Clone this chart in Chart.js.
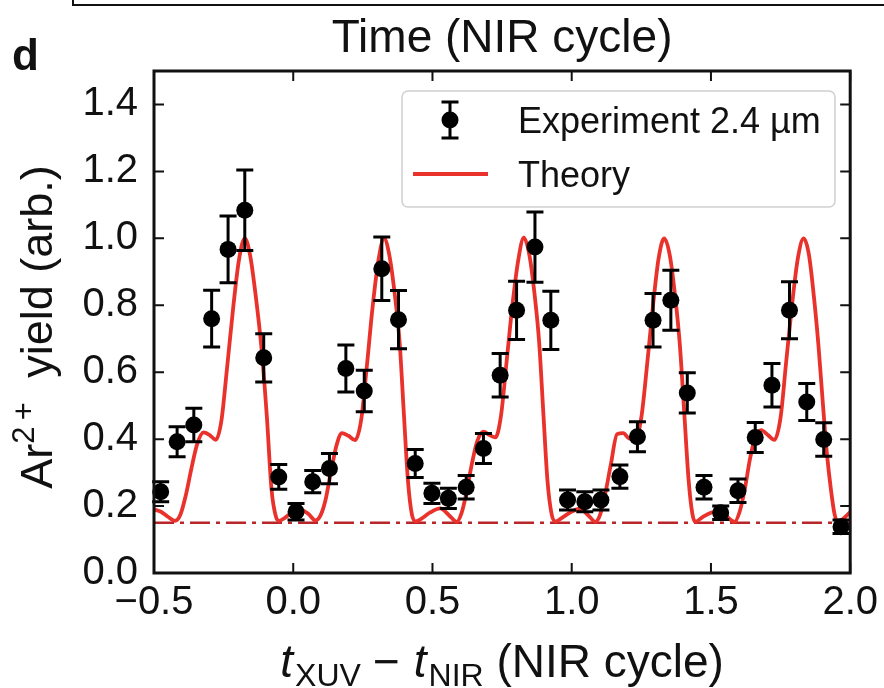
<!DOCTYPE html>
<html>
<head>
<meta charset="utf-8">
<script src="https://cdn.jsdelivr.net/npm/chart.js@4/dist/chart.umd.min.js"></script>
<style>
  html, body { margin: 0; padding: 0; background: #fff; }
  canvas { display: block; }
</style>
</head>
<body>
<canvas id="chart" width="884" height="688"></canvas>
<script>
// Measured Ar2+ yield versus XUV–NIR delay (in NIR cycles), with 1σ error bars
const delayCycles = [
  -0.476, -0.417, -0.357, -0.293, -0.234, -0.174, -0.106, -0.052, 0.010, 0.070,
  0.130, 0.189, 0.255, 0.318, 0.378, 0.438, 0.498, 0.557, 0.621, 0.683,
  0.743, 0.802, 0.868, 0.925, 0.985, 1.047, 1.105, 1.173, 1.236, 1.292,
  1.356, 1.415, 1.475, 1.535, 1.597, 1.659, 1.719, 1.782, 1.844, 1.905,
  1.967
];
const yieldValues = [
  0.243, 0.392, 0.442, 0.760, 0.967, 1.084, 0.643, 0.287, 0.183, 0.273,
  0.312, 0.611, 0.544, 0.909, 0.757, 0.327, 0.238, 0.223, 0.256, 0.372,
  0.591, 0.785, 0.974, 0.755, 0.218, 0.213, 0.218, 0.288, 0.407, 0.755,
  0.815, 0.538, 0.256, 0.180, 0.246, 0.405, 0.561, 0.785, 0.511, 0.399,
  0.138
];
const yieldErrors = [
  0.030, 0.045, 0.050, 0.085, 0.100, 0.120, 0.072, 0.037, 0.025, 0.033,
  0.045, 0.070, 0.062, 0.095, 0.087, 0.042, 0.030, 0.030, 0.035, 0.045,
  0.065, 0.087, 0.105, 0.087, 0.030, 0.030, 0.030, 0.035, 0.045, 0.080,
  0.090, 0.060, 0.035, 0.020, 0.035, 0.045, 0.065, 0.085, 0.055, 0.050,
  0.020
];

// Simulated yield curve
const theoryDelay = [
  -0.500, -0.475, -0.450, -0.425, -0.405, -0.385, -0.365, -0.345, -0.322, -0.300,
  -0.278, -0.258, -0.238, -0.216, -0.195, -0.174, -0.155, -0.135, -0.115, -0.095,
  -0.078, -0.062, -0.050, -0.030, -0.005, 0.030, 0.055, 0.080, 0.098, 0.115,
  0.135, 0.155, 0.175, 0.198, 0.222, 0.244, 0.264, 0.285, 0.306, 0.326,
  0.345, 0.365, 0.382, 0.397, 0.412, 0.426, 0.440, 0.462, 0.492, 0.528,
  0.560, 0.587, 0.604, 0.620, 0.640, 0.660, 0.683, 0.705, 0.726, 0.746,
  0.766, 0.787, 0.808, 0.828, 0.848, 0.867, 0.883, 0.898, 0.913, 0.928,
  0.942, 0.965, 0.995, 1.030, 1.060, 1.085, 1.103, 1.120, 1.140, 1.163,
  1.185, 1.206, 1.228, 1.250, 1.271, 1.292, 1.312, 1.332, 1.352, 1.371,
  1.388, 1.404, 1.420, 1.433, 1.443, 1.470, 1.500, 1.525, 1.555, 1.585,
  1.603, 1.621, 1.640, 1.657, 1.680, 1.705, 1.728, 1.750, 1.770, 1.791,
  1.812, 1.833, 1.852, 1.871, 1.886, 1.901, 1.916, 1.931, 1.944, 1.955,
  1.975, 2.000
];
const theoryYield = [
  0.190, 0.183, 0.168, 0.156, 0.175, 0.235, 0.315, 0.385, 0.420, 0.412,
  0.398, 0.455, 0.610, 0.790, 0.935, 1.000, 0.950, 0.830, 0.680, 0.470,
  0.250, 0.168, 0.156, 0.165, 0.180, 0.188, 0.176, 0.157, 0.172, 0.215,
  0.300, 0.380, 0.418, 0.410, 0.397, 0.458, 0.615, 0.795, 0.935, 1.000,
  0.950, 0.830, 0.690, 0.480, 0.275, 0.175, 0.154, 0.163, 0.181, 0.193,
  0.172, 0.153, 0.178, 0.232, 0.320, 0.392, 0.422, 0.412, 0.405, 0.470,
  0.630, 0.800, 0.935, 1.002, 0.950, 0.830, 0.690, 0.480, 0.275, 0.175,
  0.154, 0.165, 0.181, 0.192, 0.172, 0.153, 0.177, 0.235, 0.322, 0.415,
  0.418, 0.402, 0.400, 0.465, 0.625, 0.800, 0.940, 1.000, 0.950, 0.830,
  0.685, 0.480, 0.275, 0.178, 0.153, 0.167, 0.180, 0.184, 0.170, 0.153,
  0.183, 0.248, 0.340, 0.400, 0.427, 0.412, 0.398, 0.465, 0.630, 0.800,
  0.940, 1.000, 0.950, 0.815, 0.680, 0.516, 0.360, 0.248, 0.175, 0.153,
  0.162, 0.182
];

// Background level (dash-dot reference line)
const floorDelay = [-0.5, 2.0];
const floorYield = [0.15, 0.15];

const xTickValues = [-0.5, 0.0, 0.5, 1.0, 1.5, 2.0];
const yTickValues = [0.0, 0.2, 0.4, 0.6, 0.8, 1.0, 1.2, 1.4];
const seriesLabels = ['Experiment 2.4 \u00b5m', 'Theory'];
const panelLetter = 'd';
const topAxisTitle = 'Time (NIR cycle)';

const FONT = "'Liberation Sans', Arial, Helvetica, sans-serif";
const RED = '#e9322c';
const FLOOR_RED = '#b8262a';

const fmtTick = v => v.toFixed(1).replace('-', '\u2212');

function drawErrorBar(ctx, x, yTop, yBot, cap) {
  ctx.beginPath();
  ctx.moveTo(x, yTop); ctx.lineTo(x, yBot);
  ctx.moveTo(x - cap, yTop); ctx.lineTo(x + cap, yTop);
  ctx.moveTo(x - cap, yBot); ctx.lineTo(x + cap, yBot);
  ctx.stroke();
}

// Draws a run of text pieces (with sub/superscripts) centred on x=0 at baseline y=0
function drawRichText(ctx, parts) {
  let total = 0;
  parts.forEach(p => { ctx.font = p.font; p.w = ctx.measureText(p.text).width + (p.gap || 0); total += p.w; });
  let x = -total / 2;
  ctx.textAlign = 'left';
  ctx.textBaseline = 'alphabetic';
  parts.forEach(p => { ctx.font = p.font; ctx.fillText(p.text, x, p.dy || 0); x += p.w; });
}

const errorBarPlugin = {
  id: 'errorBars',
  beforeDatasetDraw(chart, args) {
    if (args.index !== 0) return;
    const { ctx, scales: { x, y } } = chart;
    ctx.save();
    ctx.strokeStyle = '#000';
    ctx.lineWidth = 3;
    delayCycles.forEach((t, i) => {
      const px = x.getPixelForValue(t);
      drawErrorBar(ctx, px,
        y.getPixelForValue(yieldValues[i] + yieldErrors[i]),
        y.getPixelForValue(yieldValues[i] - yieldErrors[i]), 8.5);
    });
    ctx.restore();
  }
};

const framePlugin = {
  id: 'frameAndDecor',
  afterDraw(chart) {
    const { ctx, chartArea: { left, right, top, bottom }, scales: { x, y } } = chart;
    ctx.save();
    // inward ticks on all four sides
    ctx.strokeStyle = '#111';
    ctx.lineWidth = 2;
    ctx.beginPath();
    xTickValues.forEach(v => {
      const px = x.getPixelForValue(v);
      ctx.moveTo(px, bottom); ctx.lineTo(px, bottom - 10);
      ctx.moveTo(px, top); ctx.lineTo(px, top + 10);
    });
    yTickValues.forEach(v => {
      const py = y.getPixelForValue(v);
      ctx.moveTo(left, py); ctx.lineTo(left + 10, py);
      ctx.moveTo(right, py); ctx.lineTo(right - 10, py);
    });
    ctx.stroke();
    // axes frame
    ctx.lineWidth = 3;
    ctx.strokeRect(left, top, right - left, bottom - top);

    // legend
    const lx = 402, ly = 91, lw = 433, lh = 116;
    ctx.beginPath();
    ctx.roundRect(lx, ly, lw, lh, 6);
    ctx.fillStyle = 'rgba(255,255,255,0.85)';
    ctx.fill();
    ctx.strokeStyle = '#d0d0d0';
    ctx.lineWidth = 1.5;
    ctx.stroke();

    ctx.strokeStyle = '#000';
    ctx.lineWidth = 3;
    drawErrorBar(ctx, 450, 102, 138, 8.5);
    ctx.beginPath();
    ctx.arc(450, 120, 8.5, 0, Math.PI * 2);
    ctx.fillStyle = '#000';
    ctx.fill();

    ctx.strokeStyle = RED;
    ctx.lineWidth = 3.8;
    ctx.beginPath();
    ctx.moveTo(413, 174); ctx.lineTo(488, 174);
    ctx.stroke();

    ctx.fillStyle = '#111';
    ctx.font = `36px ${FONT}`;
    ctx.textAlign = 'left';
    ctx.textBaseline = 'alphabetic';
    ctx.fillText(seriesLabels[0], 518, 133);
    ctx.fillText(seriesLabels[1], 518, 187);

    // panel letter and top title
    ctx.font = `bold 44px ${FONT}`;
    ctx.fillText(panelLetter, 12, 70);
    ctx.font = `46px ${FONT}`;
    ctx.textAlign = 'center';
    ctx.fillText(topAxisTitle, (left + right) / 2, 52);

    // x axis title: t_XUV − t_NIR (NIR cycle)
    ctx.save();
    ctx.translate((left + right) / 2, 677);
    drawRichText(ctx, [
      { text: 't', font: `italic 46px ${FONT}`, gap: 2 },
      { text: 'XUV', font: `32px ${FONT}`, dy: 9, gap: 12 },
      { text: '\u2212', font: `46px ${FONT}`, gap: 14 },
      { text: 't', font: `italic 46px ${FONT}`, gap: 2 },
      { text: 'NIR', font: `32px ${FONT}`, dy: 9 },
      { text: ' (NIR cycle)', font: `46px ${FONT}` }
    ]);
    ctx.restore();

    // y axis title: Ar^2+ yield (arb.)
    ctx.save();
    ctx.translate(52, 327);
    ctx.rotate(-Math.PI / 2);
    drawRichText(ctx, [
      { text: 'Ar', font: `45px ${FONT}` },
      { text: '2\u2009+', font: `31px ${FONT}`, dy: -18, gap: 12 },
      { text: ' yield (arb.)', font: `45px ${FONT}` }
    ]);
    ctx.restore();

    // edge of the neighbouring panel above
    ctx.strokeStyle = '#111';
    ctx.lineWidth = 2;
    ctx.beginPath();
    ctx.moveTo(73, 0); ctx.lineTo(73, 5); ctx.lineTo(884, 5);
    ctx.stroke();
    ctx.restore();
  }
};

const experimentPoints = delayCycles.map((t, i) => ({ x: t, y: yieldValues[i] }));
const theoryPoints = theoryDelay.map((t, i) => ({ x: t, y: theoryYield[i] }));
const floorPoints = floorDelay.map((t, i) => ({ x: t, y: floorYield[i] }));

new Chart(document.getElementById('chart'), {
  type: 'scatter',
  data: {
    datasets: [
      {
        label: seriesLabels[0],
        data: experimentPoints,
        pointRadius: 8.5,
        pointHoverRadius: 8.5,
        pointBackgroundColor: '#000',
        pointBorderColor: '#000',
        pointBorderWidth: 0,
        showLine: false,
        clip: false
      },
      {
        label: seriesLabels[1],
        data: theoryPoints,
        showLine: true,
        borderColor: RED,
        borderWidth: 3.8,
        pointRadius: 0,
        cubicInterpolationMode: 'monotone'
      },
      {
        label: 'floor',
        data: floorPoints,
        showLine: true,
        borderColor: FLOOR_RED,
        borderWidth: 2.5,
        borderDash: [20, 6, 4, 6],
        pointRadius: 0
      }
    ]
  },
  options: {
    responsive: false,
    animation: false,
    events: [],
    layout: { padding: { top: 71, right: 31, left: 0, bottom: 0 } },
    plugins: { legend: { display: false }, tooltip: { enabled: false }, title: { display: false } },
    scales: {
      x: {
        type: 'linear',
        min: -0.5,
        max: 2.0,
        grid: { display: false, drawTicks: false },
        border: { display: false },
        afterBuildTicks: s => { s.ticks = xTickValues.map(v => ({ value: v })); },
        afterFit: s => { s.height = 115; },
        ticks: {
          padding: 6,
          color: '#111',
          font: { family: FONT, size: 40 },
          callback: v => fmtTick(v),
          maxRotation: 0,
          autoSkip: false
        }
      },
      y: {
        type: 'linear',
        min: 0,
        max: 1.5,
        grid: { display: false, drawTicks: false },
        border: { display: false },
        afterBuildTicks: s => { s.ticks = yTickValues.map(v => ({ value: v })); },
        afterFit: s => { s.width = 154; },
        ticks: {
          padding: 16,
          color: '#111',
          font: { family: FONT, size: 40 },
          callback: v => fmtTick(v),
          autoSkip: false
        }
      }
    }
  },
  plugins: [errorBarPlugin, framePlugin]
});
</script>
</body>
</html>
